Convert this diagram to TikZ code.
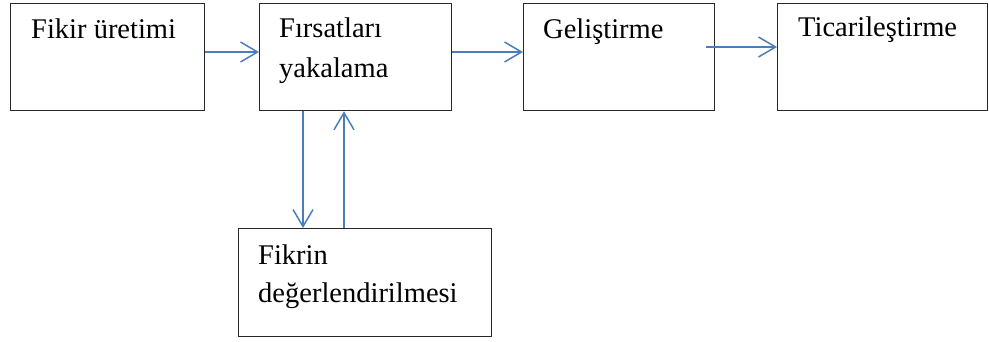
\documentclass[tikz,border=0pt]{standalone}
\usepackage{fontspec}
\setmainfont{Liberation Serif}
\newfontfamily\tnr{Liberation Serif}
\usetikzlibrary{arrows.meta}
\definecolor{arrblue}{RGB}{74,126,187}
\definecolor{boxline}{RGB}{40,40,40}
\begin{document}
\begin{tikzpicture}[x=1pt,y=-1pt,
  stepbox/.style={draw=boxline,line width=1.3pt,rectangle,inner sep=0pt,anchor=north west},
  lbl/.style={anchor=base west,inner sep=0pt,font=\tnr\fontsize{28.5}{34}\selectfont},
  arr/.style={draw=arrblue,line width=1.5pt,-{Straight Barb[length=17pt,width=20pt,line width=1.5pt]}}]
\useasboundingbox (0,0) rectangle (989,342);
\node[stepbox,minimum width=194pt,minimum height=107pt] (b1) at (10,3) {};
\node[stepbox,minimum width=192pt,minimum height=107pt] (b2) at (259,3) {};
\node[stepbox,minimum width=191pt,minimum height=107pt] (b3) at (523,3) {};
\node[stepbox,minimum width=210pt,minimum height=107pt] (b4) at (777,3) {};
\node[stepbox,minimum width=253pt,minimum height=108pt] (b5) at (238,228) {};
\node[lbl] (t1) at (31,39) {Fikir üretimi};
\node[lbl] (t2a) at (279,38) {Fırsatları};
\node[lbl] (t2b) at (279,78) {yakalama};
\node[lbl] (t3) at (543,39) {Geliştirme};
\node[lbl] (t4) at (798,37) {Ticarileştirme};
\node[lbl] (t5a) at (258,265) {Fikrin};
\node[lbl] (t5b) at (258,302) {değerlendirilmesi};
\coordinate (h12) at (0,52);
\coordinate (s3) at (706,47);
\coordinate (dn) at (303,0);
\coordinate (upc) at (344,0);
\draw[arr] (b1.east |- h12) -- (b2.west |- h12);
\draw[arr] (b2.east |- h12) -- (b3.west |- h12);
\draw[arr] (s3) -- (b4.west |- s3);
\draw[arr] (b2.south -| dn) -- (b5.north -| dn);
\draw[arr] (b5.north -| upc) -- (b2.south -| upc);
\end{tikzpicture}
\end{document}
